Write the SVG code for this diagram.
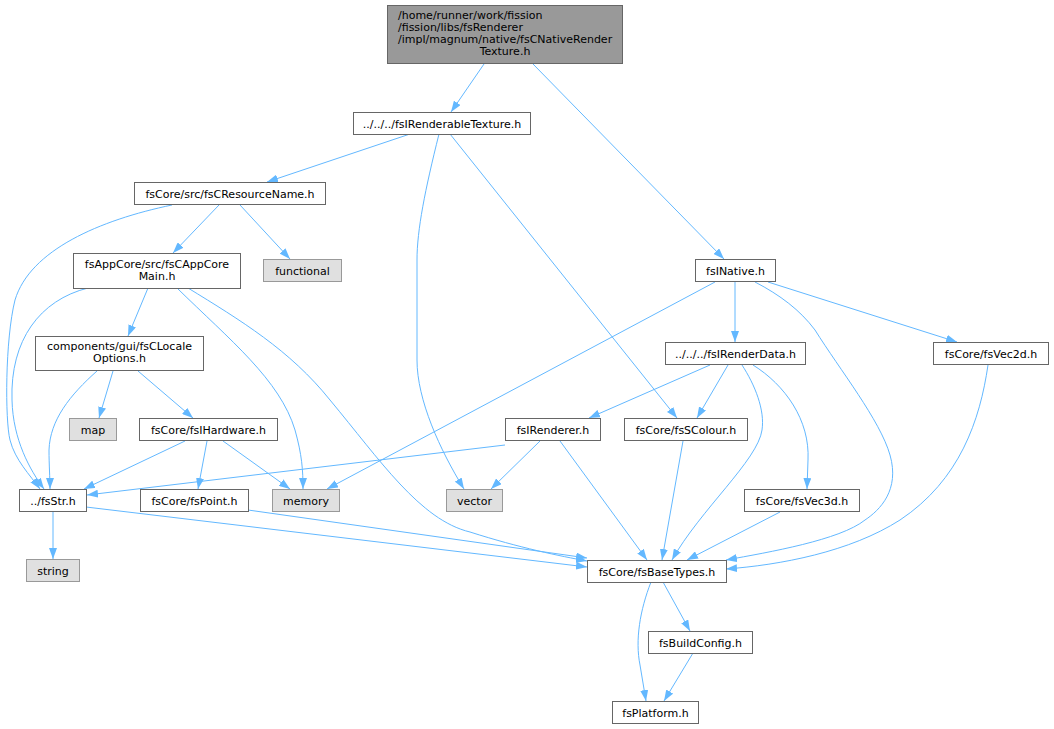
<svg xmlns="http://www.w3.org/2000/svg" width="1054" height="729" viewBox="0 0 1054 729">
<defs>
<style>
.n rect{fill:#ffffff;stroke:#666666;stroke-width:1}
.g rect{fill:#e0e0e0;stroke:#999999;stroke-width:1}
.t rect{fill:#999999;stroke:#666666;stroke-width:1}
text{font-family:"DejaVu Sans","Liberation Sans",sans-serif;font-size:11px;fill:#000000}
.c{text-anchor:middle}
#edges path{fill:none;stroke:#63b8ff;stroke-width:1;marker-end:url(#a)}
</style>
<marker id="a" viewBox="0 0 11 8" refX="11" refY="4" markerWidth="11" markerHeight="8" orient="auto" markerUnits="userSpaceOnUse">
<path d="M0,0 L11,4 L0,8 z" fill="#63b8ff"/>
</marker>
</defs>
<rect width="1054" height="729" fill="#ffffff"/>
<g id="edges">
<path d="M484,64 L451,112"/>
<path d="M533,64 L724,259"/>
<path d="M410,134 L267,182"/>
<path d="M439,134 C425,190 417,230 417,260 L417,360 C417,400 440,450 464,489"/>
<path d="M450,134 L677,418"/>
<path d="M219,205 L173,253"/>
<path d="M240,205 L290,259"/>
<path d="M172,205 C100,220 30,250 15,300 C5,340 5,420 10,440 C15,460 30,475 40,489"/>
<path d="M88,288 C40,300 10,340 12,400 C13,440 30,470 44,489"/>
<path d="M148,288 L128,336"/>
<path d="M177,288 C230,340 280,380 295,430 C302,455 303,470 303,489"/>
<path d="M188,288 C240,320 290,350 330,400 C380,460 420,520 470,532 C520,548 560,556 587,561"/>
<path d="M113,371 L99,418"/>
<path d="M138,371 L193,418"/>
<path d="M97,371 C70,395 50,420 49,450 C49,465 50,478 50,489"/>
<path d="M185,441 L84,489"/>
<path d="M207,441 L198,489"/>
<path d="M223,441 L290,489"/>
<path d="M53,512 L53,559"/>
<path d="M86,507 L587,567"/>
<path d="M248,510 L587,558"/>
<path d="M715,282 L327,489"/>
<path d="M735,282 L735,342"/>
<path d="M755,282 C780,295 800,310 815,330 C840,370 880,420 890,455 C900,490 880,510 865,520 C840,540 770,552 726,560"/>
<path d="M768,282 L957,342"/>
<path d="M710,365 L589,418"/>
<path d="M728,365 L697,418"/>
<path d="M742,365 C755,385 765,410 762,430 C758,460 700,510 672,560"/>
<path d="M753,365 C785,385 810,420 808,460 L807,489"/>
<path d="M988,365 C980,420 960,480 900,520 C850,552 780,565 726,569"/>
<path d="M683,441 L662,560"/>
<path d="M780,512 L687,560"/>
<path d="M540,441 L491,489"/>
<path d="M560,441 L647,560"/>
<path d="M505,445 L87,495"/>
<path d="M663,582 L690,631"/>
<path d="M651,582 C640,610 635,640 640,665 L646,701"/>
<path d="M693,653 L664,701"/>
</g>
<g id="node1" class="t"><rect x="387.5" y="5.5" width="235" height="58"/>
<text x="398" y="19">/home/runner/work/fission</text>
<text x="398" y="31">/fission/libs/fsRenderer</text>
<text x="398" y="43">/impl/magnum/native/fsCNativeRender</text>
<text class="c" x="505" y="55">Texture.h</text></g>
<g id="node2" class="n"><rect x="353.5" y="112.5" width="177" height="22"/><text class="c" x="442" y="127.5">../../../fsIRenderableTexture.h</text></g>
<g id="node3" class="n"><rect x="134.5" y="182.5" width="191" height="22"/><text class="c" x="230" y="197.5">fsCore/src/fsCResourceName.h</text></g>
<g id="node4" class="n"><rect x="73.5" y="253.5" width="167" height="35"/><text class="c" x="157" y="268">fsAppCore/src/fsCAppCore</text><text class="c" x="157" y="280">Main.h</text></g>
<g id="node5" class="g"><rect x="263.5" y="259.5" width="78" height="22"/><text class="c" x="302.5" y="274.5">functional</text></g>
<g id="node6" class="n"><rect x="35.5" y="336.5" width="168" height="34"/><text class="c" x="119.5" y="350">components/gui/fsCLocale</text><text class="c" x="119.5" y="362">Options.h</text></g>
<g id="node7" class="g"><rect x="69.5" y="418.5" width="47" height="22"/><text class="c" x="93" y="433.5">map</text></g>
<g id="node8" class="n"><rect x="139.5" y="418.5" width="138" height="22"/><text class="c" x="208.5" y="433.5">fsCore/fsIHardware.h</text></g>
<g id="node9" class="n"><rect x="19.5" y="489.5" width="67" height="22"/><text class="c" x="53" y="504.5">../fsStr.h</text></g>
<g id="node10" class="n"><rect x="140.5" y="489.5" width="108" height="22"/><text class="c" x="194.5" y="504.5">fsCore/fsPoint.h</text></g>
<g id="node11" class="g"><rect x="272.5" y="489.5" width="67" height="22"/><text class="c" x="306" y="504.5">memory</text></g>
<g id="node12" class="g"><rect x="26.5" y="559.5" width="53" height="22"/><text class="c" x="53" y="574.5">string</text></g>
<g id="node13" class="n"><rect x="695.5" y="259.5" width="80" height="22"/><text class="c" x="735.5" y="274.5">fsINative.h</text></g>
<g id="node14" class="n"><rect x="665.5" y="342.5" width="140" height="22"/><text class="c" x="735.5" y="357.5">../../../fsIRenderData.h</text></g>
<g id="node15" class="n"><rect x="933.5" y="342.5" width="115" height="22"/><text class="c" x="991" y="357.5">fsCore/fsVec2d.h</text></g>
<g id="node16" class="n"><rect x="505.5" y="418.5" width="95" height="22"/><text class="c" x="553" y="433.5">fsIRenderer.h</text></g>
<g id="node17" class="n"><rect x="624.5" y="418.5" width="123" height="22"/><text class="c" x="686" y="433.5">fsCore/fsSColour.h</text></g>
<g id="node18" class="n"><rect x="744.5" y="489.5" width="115" height="22"/><text class="c" x="802" y="504.5">fsCore/fsVec3d.h</text></g>
<g id="node19" class="g"><rect x="446.5" y="489.5" width="56" height="22"/><text class="c" x="474.5" y="504.5">vector</text></g>
<g id="node20" class="n"><rect x="587.5" y="560.5" width="139" height="22"/><text class="c" x="657" y="575.5">fsCore/fsBaseTypes.h</text></g>
<g id="node21" class="n"><rect x="648.5" y="631.5" width="104" height="22"/><text class="c" x="700.5" y="646.5">fsBuildConfig.h</text></g>
<g id="node22" class="n"><rect x="612.5" y="701.5" width="86" height="22"/><text class="c" x="655.5" y="716.5">fsPlatform.h</text></g>
</svg>
